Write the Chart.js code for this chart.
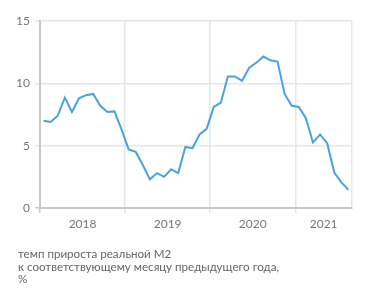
<!DOCTYPE html>
<html>
<head>
<meta charset="utf-8">
<script src="https://cdn.jsdelivr.net/npm/chart.js@4"></script>
<style>
  html, body { margin: 0; padding: 0; background: #fff; }
  #wrap { position: relative; width: 371px; height: 301px; }
  #note {
    position: absolute; left: 18px; top: 248px;
    font: 11.6px Lato, sans-serif; line-height: 12.5px; color: #666;
  }
</style>
</head>
<body>
<div id="wrap">
  <canvas id="m2Chart" width="371" height="301"></canvas>
  <div id="note">темп прироста реальной М2<br>к соответствующему месяцу предыдущего года,<br>%</div>
</div>
<script>
// monthly data, Jan 2018 .. Aug 2021
const years = ["2018", "2019", "2020", "2021"];
const monthsPerYear = [12, 12, 12, 8];
const m2Growth = [
  7.0, 6.9, 7.4, 8.85, 7.7, 8.8, 9.05, 9.15, 8.2, 7.7, 7.75, 6.3,
  4.7, 4.5, 3.45, 2.3, 2.8, 2.5, 3.1, 2.8, 4.9, 4.8, 5.9, 6.35,
  8.1, 8.45, 10.55, 10.55, 10.2, 11.25, 11.65, 12.15, 11.85, 11.75, 9.15, 8.2,
  8.1, 7.2, 5.25, 5.9, 5.2, 2.85, 2.05, 1.45
];
const yTicks = [0, 5, 10, 15];

const totalMonths = m2Growth.length;
const points = m2Growth.map((v, i) => ({ x: i + 0.5, y: v }));

// year boundaries and label centers
const bounds = [];
const centers = {};
let start = 0;
years.forEach((y, k) => {
  const end = start + monthsPerYear[k];
  centers[(start + end) / 2] = y;
  if (end < totalMonths) bounds.push(end);
  start = end;
});

const GRID = "#e6e6e6";
const AXIS = "#c8c8c8";

const ctx = document.getElementById("m2Chart").getContext("2d");
new Chart(ctx, {
  type: "line",
  data: {
    datasets: [{
      data: points,
      borderColor: "#47a3e0",
      borderWidth: 2,
      pointRadius: 0,
      tension: 0,
      fill: false
    }]
  },
  options: {
    responsive: false,
    animation: false,
    layout: { padding: { top: 21, right: 19, bottom: 63, left: 0 } },
    plugins: { legend: { display: false }, tooltip: { enabled: false } },
    scales: {
      x: {
        type: "linear",
        min: 0,
        max: totalMonths,
        afterBuildTicks: s => {
          const vals = [0, ...bounds, totalMonths, ...Object.keys(centers).map(Number)];
          s.ticks = vals.sort((a, b) => a - b).map(v => ({ value: v }));
        },
        afterFit: s => { s.height = 30; },
        grid: {
          color: c => (c.tick && centers[c.tick.value]) ? "rgba(0,0,0,0)" : GRID,
          tickColor: c => {
            if (!c.tick) return GRID;
            if (centers[c.tick.value] || c.tick.value === totalMonths) return "rgba(0,0,0,0)";
            return c.tick.value === 0 ? AXIS : GRID;
          },
          lineWidth: 1.5,
          tickLength: 5
        },
        border: { display: true, color: AXIS, width: 2 },
        ticks: {
          autoSkip: false,
          maxRotation: 0,
          padding: 4,
          color: "#777",
          font: { family: "Lato", size: 12 },
          callback: v => centers[v] || ""
        }
      },
      y: {
        min: 0,
        max: 15,
        afterBuildTicks: s => { s.ticks = yTicks.map(v => ({ value: v })); },
        afterFit: s => { s.width = 40; },
        grid: {
          color: GRID,
          tickColor: c => (c.tick && c.tick.value === 0) ? AXIS : GRID,
          lineWidth: 1.5,
          tickLength: 5
        },
        border: { display: true, color: AXIS, width: 2 },
        ticks: {
          padding: 5,
          color: "#777",
          font: { family: "Lato", size: 12 }
        }
      }
    }
  }
});
</script>
</body>
</html>
